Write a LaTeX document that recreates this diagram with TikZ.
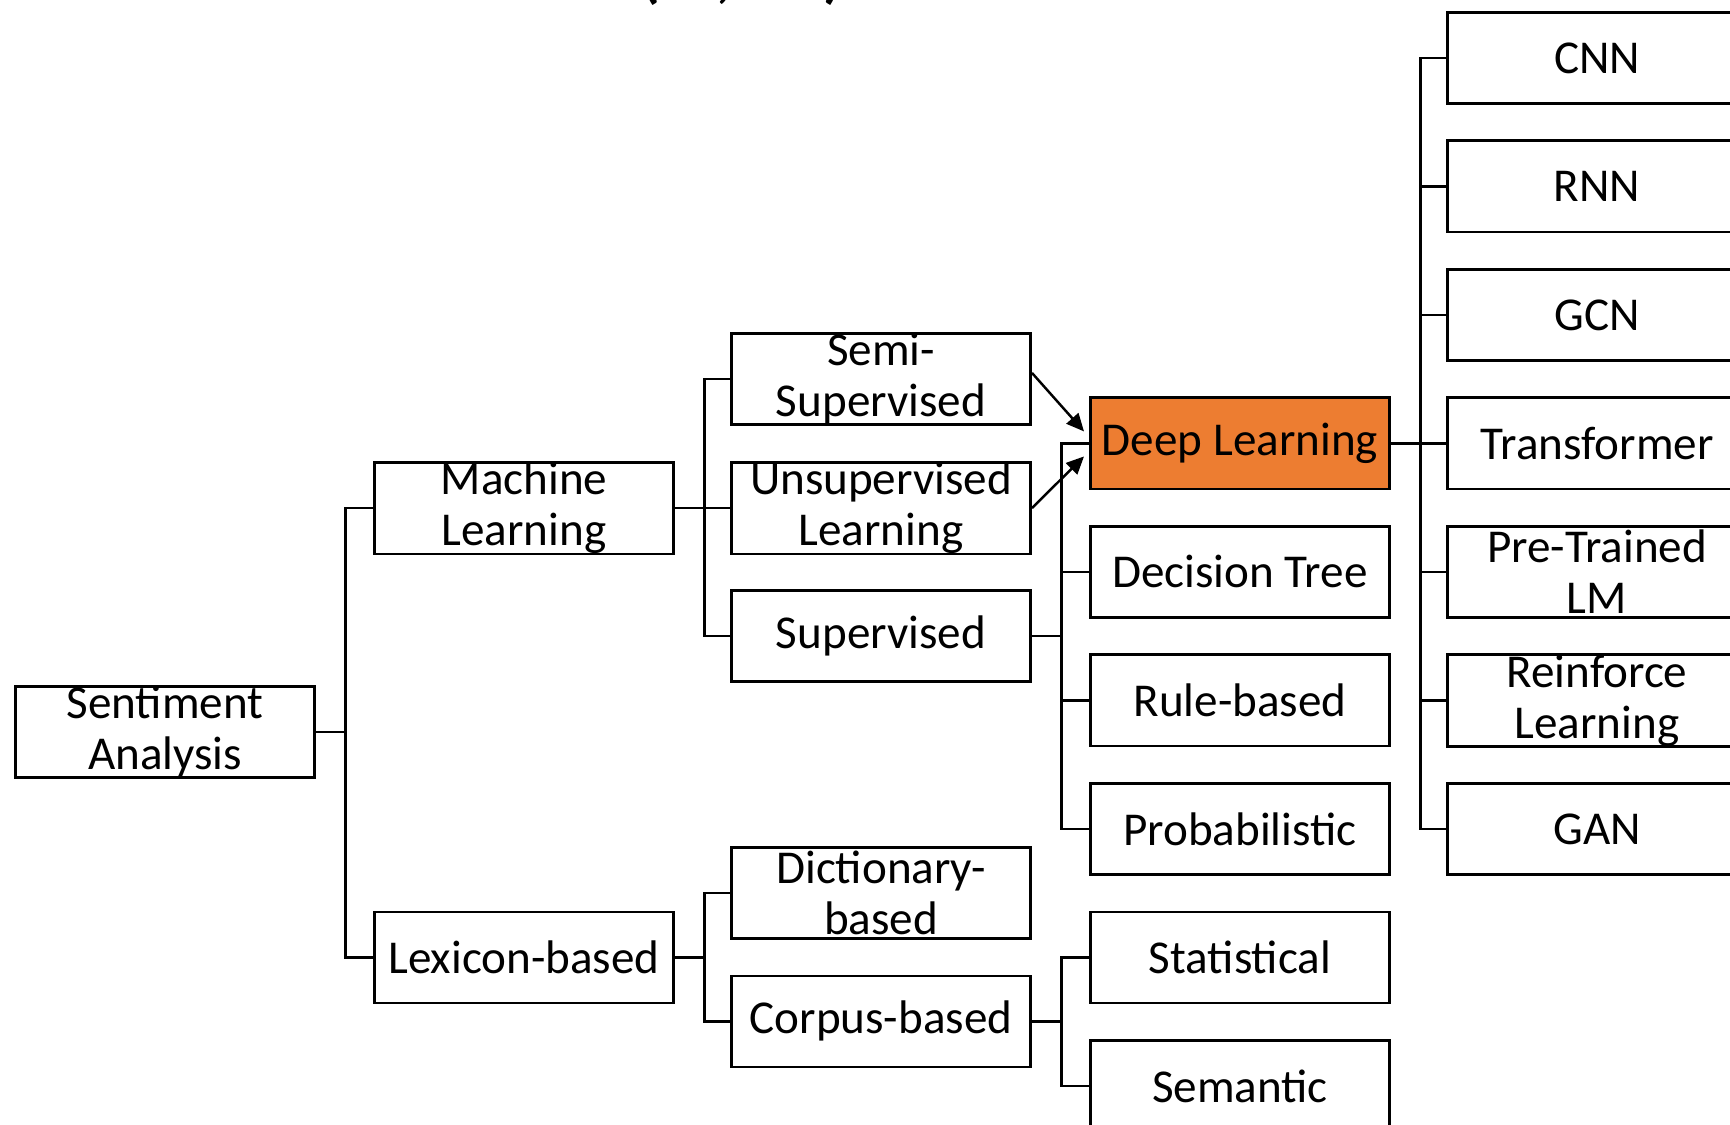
\documentclass[tikz,border=0pt]{standalone}
\usepackage{fontspec}
\setmainfont{Carlito}
\usetikzlibrary{arrows.meta}
\definecolor{dlorange}{HTML}{ED7D31}
\begin{document}
\begin{tikzpicture}[x=0.01cm,y=-0.01cm,
  box/.style={draw=black, line width=0.8pt, minimum width=2.99cm, minimum height=0.91cm,
    inner sep=0pt, align=center, anchor=north west,
    font=\fontsize{13.4}{14.5}\selectfont},
  link/.style={line width=0.7pt},
  arr/.style={line width=0.7pt, -{Triangle[length=5pt,width=4.5pt]}},
  titlefrag/.style={anchor=base, inner sep=0pt, font=\fontsize{17}{20}\bfseries\selectfont}]
\useasboundingbox (0,0) rectangle (1730,1125);
\clip (0,0) rectangle (1730,1125);

% heading, cut at the top edge
\node[titlefrag] (t1) at (651,-3) {(};
\node[titlefrag] (t2) at (724,-3) {,};
\node[titlefrag] (t3) at (833,-3) {)};

% column 1
\node[box] (sa) at (14,685) {Sentiment\\Analysis};
% column 2
\node[box] (ml) at (373,460.75) {Machine\\Learning};
\node[box] (lex) at (373,910.5) {Lexicon-based};
% column 3
\node[box] (semi) at (730,332) {Semi-\\Supervised};
\node[box] (unsup) at (730,460.75) {Unsupervised\\Learning};
\node[box] (sup) at (730,589) {Supervised};
\node[box] (dict) at (730,846) {Dictionary-\\based};
\node[box] (corp) at (730,974.5) {Corpus-based};
% column 4
\node[box, fill=dlorange] (dl) at (1089,396.5) {Deep Learning};
\node[box] (dt) at (1089,525) {Decision Tree};
\node[box] (rule) at (1089,653.5) {Rule-based};
\node[box] (prob) at (1089,782) {Probabilistic};
\node[box] (stat) at (1089,910.5) {Statistical};
\node[box] (sem) at (1089,1039) {Semantic};
% column 5
\node[box] (cnn) at (1446,11) {CNN};
\node[box] (rnn) at (1446,139.5) {RNN};
\node[box] (gcn) at (1446,268) {GCN};
\node[box] (trans) at (1446,396.5) {Transformer};
\node[box] (plm) at (1446,525) {Pre-Trained\\LM};
\node[box] (rl) at (1446,653.5) {Reinforce\\Learning};
\node[box] (gan) at (1446,782) {GAN};

% tree connectors
\coordinate (busA) at ([xshift=0.295cm]sa.east);
\draw[link] (sa.east) -- (busA) |- (ml.west);
\draw[link] (busA) |- (lex.west);

\coordinate (busB) at ([xshift=0.295cm]ml.east);
\draw[link] (ml.east) -- (busB) |- (semi.west);
\draw[link] (busB) |- (unsup.west);
\draw[link] (busB) |- (sup.west);

\coordinate (busC) at ([xshift=0.295cm]lex.east);
\draw[link] (lex.east) -- (busC) |- (dict.west);
\draw[link] (busC) |- (corp.west);

\coordinate (busD) at ([xshift=0.295cm]sup.east);
\draw[link] (sup.east) -- (busD) |- (dl.west);
\draw[link] (busD) |- (dt.west);
\draw[link] (busD) |- (rule.west);
\draw[link] (busD) |- (prob.west);

\coordinate (busE) at ([xshift=0.295cm]corp.east);
\draw[link] (corp.east) -- (busE) |- (stat.west);
\draw[link] (busE) |- (sem.west);

\coordinate (busF) at ([xshift=0.295cm]dl.east);
\draw[link] (dl.east) -- (busF) |- (cnn.west);
\draw[link] (busF) |- (rnn.west);
\draw[link] (busF) |- (gcn.west);
\draw[link] (busF) |- (trans.west);
\draw[link] (busF) |- (plm.west);
\draw[link] (busF) |- (rl.west);
\draw[link] (busF) |- (gan.west);

% arrows into Deep Learning
\draw[arr] ([yshift=0.06cm]semi.east) -- ([xshift=-0.05cm,yshift=0.12cm]dl.west);
\draw[arr] (unsup.east) -- ([xshift=-0.05cm,yshift=-0.13cm]dl.west);
\end{tikzpicture}
\end{document}
